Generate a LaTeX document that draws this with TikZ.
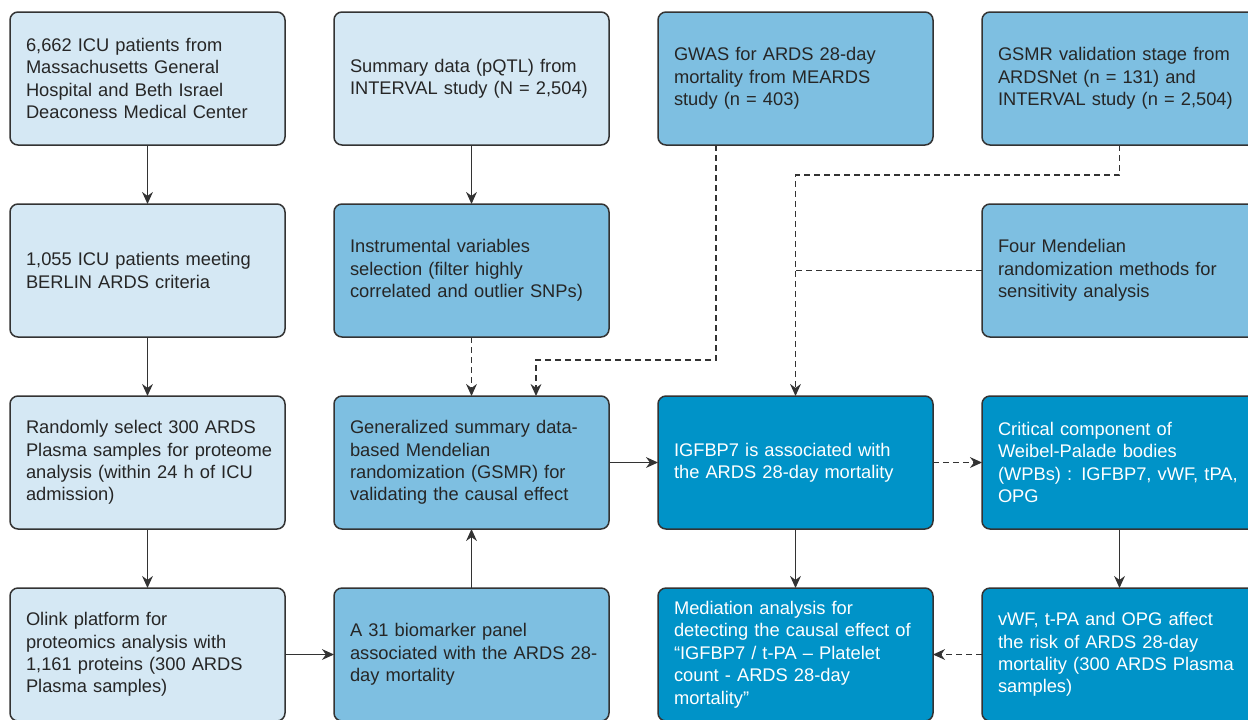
\documentclass[tikz,border=0pt]{standalone}
\usepackage{fontspec}
\setmainfont{Liberation Sans}
\usetikzlibrary{positioning,arrows.meta}
\definecolor{boxlight}{HTML}{D5E8F4}
\definecolor{boxmid}{HTML}{7EBFE1}
\definecolor{boxdark}{HTML}{0093C8}
\definecolor{linegray}{HTML}{333333}
\begin{document}
\begin{tikzpicture}[node distance={29.5pt and 24.5pt}, line width=0.75pt,
    main/.style = {draw=linegray, rounded corners=4pt, text width=121.5pt, align=left,
      inner xsep=8pt, inner ysep=0pt, outer sep=0pt, minimum height=66.5pt, text=black!85,
      font=\fontsize{9.15}{11.2}\selectfont,
      execute at begin node={\rightskip=-12pt plus 1fil\relax}},
    light/.style = {main, fill=boxlight},
    mid/.style = {main, fill=boxmid},
    dark/.style = {main, fill=boxdark, text=white},
    arr/.style = {draw=linegray, -{Stealth[length=6pt,width=5.4pt]}},
    dasharr/.style = {arr, dash pattern=on 3pt off 2pt},
    dashline/.style = {draw=linegray, dash pattern=on 3pt off 2pt}]
  \useasboundingbox (0,0) rectangle (624pt,-359.5pt);

  % column 1
  \node[light] (1) at (73.75pt,-39.25pt) {6,662 ICU patients from\\ Massachusetts General\\ Hospital and Beth Israel\\ Deaconess Medical Center};
  \node[light] (2) [below=of 1] {1,055 ICU patients meeting\\ BERLIN ARDS criteria};
  \node[light] (3) [below=of 2] {Randomly select 300 ARDS\\ Plasma samples for proteome\\ analysis (within 24 h of ICU\\ admission)};
  \node[light] (4) [below=of 3] {Olink platform for\\ proteomics analysis with\\ 1,161 proteins (300 ARDS\\ Plasma samples)};

  % column 2
  \node[light] (5) [right=of 1] {Summary data (pQTL) from\\ INTERVAL study (N = 2,504)};
  \node[mid] (6) [below=of 5] {Instrumental variables\\ selection (filter highly\\ correlated and outlier SNPs)};
  \node[mid] (7) [below=of 6] {Generalized summary data-\\ based Mendelian\\ randomization (GSMR) for\\ validating the causal effect};
  \node[mid] (8) [below=of 7] {A 31 biomarker panel\\ associated with the ARDS 28-\\ day mortality};

  % column 3
  \node[mid] (9) [right=of 5] {GWAS for ARDS 28-day\\ mortality from MEARDS\\ study (n = 403)};
  \node[dark] (10) [right=of 7] {IGFBP7 is associated with\\ the ARDS 28-day mortality};
  \node[dark] (11) [right=of 8] {Mediation analysis for\\ detecting the causal effect of\\ “IGFBP7 / t-PA – Platelet\\ count - ARDS 28-day\\ mortality”};

  % column 4
  \node[mid] (12) [right=of 9] {GSMR validation stage from\\ ARDSNet (n = 131) and\\ INTERVAL study (n = 2,504)};
  \node[mid] (13) [below=of 12] {Four Mendelian\\ randomization methods for\\ sensitivity analysis};
  \node[dark] (14) [below=of 13] {Critical component of\\ Weibel-Palade bodies\\ (WPBs) : IGFBP7, vWF, tPA,\\ OPG};
  \node[dark] (15) [below=of 14] {vWF, t-PA and OPG affect\\ the risk of ARDS 28-day\\ mortality (300 ARDS Plasma\\ samples)};

  \draw[arr] (1) -- (2);
  \draw[arr] (2) -- (3);
  \draw[arr] (3) -- (4);
  \draw[arr] (4) -- (8);
  \draw[arr] (8) -- (7);
  \draw[arr] (5) -- (6);
  \draw[dasharr] (6) -- (7);
  \draw[dasharr] ([xshift=-39.75pt]9.south) |- ([xshift=32.25pt,yshift=18pt]7.north) -- ([xshift=32.25pt]7.north);
  \draw[dasharr] (12.south) -- ++(0,-15pt) -| (10.north);
  \draw[dashline] (13.west) -- (13.west -| 10.north);
  \draw[arr] (7) -- (10);
  \draw[dasharr] (10) -- (14);
  \draw[arr] (10) -- (11);
  \draw[arr] (14) -- (15);
  \draw[dasharr] (15) -- (11);
\end{tikzpicture}
\end{document}
